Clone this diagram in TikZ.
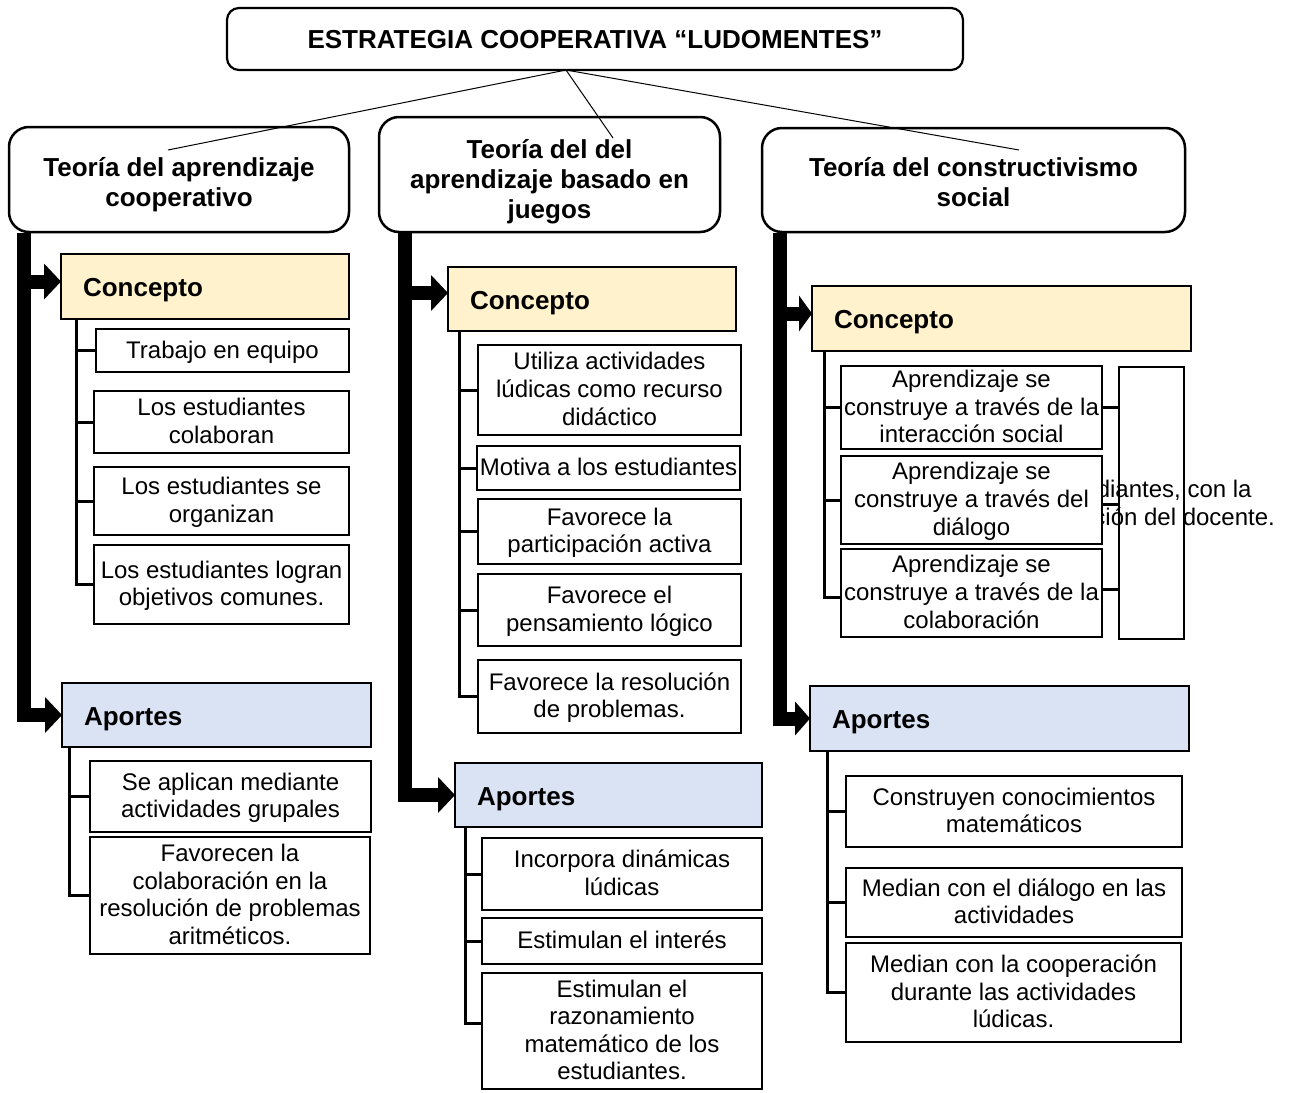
\documentclass[tikz,border=0pt]{standalone}
\usepackage{fontspec}
\setmainfont{Liberation Sans}
\definecolor{concfill}{HTML}{FFF2CC}
\definecolor{aporfill}{HTML}{DAE3F3}
\def\tsh{2}
\newcommand\lowtext[1]{\raisebox{-\tsh pt}[\height][\depth]{\begin{tabular}{@{}c@{}}#1\end{tabular}}}
\newcommand\bx[7]{\node[#1, minimum width={(#5)-(#3)}, minimum height={(#6)-(#4)}] (#2) at ({((#3)+(#5))/2},{((#4)+(#6))/2}) {\lowtext{#7}};}
\newcommand\hb[7]{\pgfmathsetmacro\hbw{(#5)-(#3)-44}\node[#1, minimum width={(#5)-(#3)}, minimum height={(#6)-(#4)}, text width=\hbw pt] (#2) at ({((#3)+(#5))/2},{((#4)+(#6))/2}) {\raisebox{-4pt}[\height][\depth]{#7}};}
\begin{document}
\begin{tikzpicture}[x=1pt,y=-1pt,
  every node/.style={font=\fontsize{24}{27.6}\selectfont, inner sep=0pt, outer sep=0pt},
  item/.style={draw, line width=2.2pt, fill=white, align=center},
  headbox/.style={draw, line width=2.5pt, align=left, font=\bfseries\fontsize{26}{30}\selectfont},
  cbox/.style={headbox, fill=concfill},
  abox/.style={headbox, fill=aporfill},
  theory/.style={draw, line width=2.5pt, rounded corners=20pt, fill=white, align=center, font=\bfseries\fontsize{26}{30}\selectfont},
  titlebox/.style={draw, line width=2.2pt, rounded corners=12pt, fill=white, align=center, font=\bfseries\fontsize{26}{30}\selectfont},
  bar/.style={line width=14pt, line join=miter},
  sub/.style={line width=3pt},
  thin/.style={line width=1pt}]
\fill[white] (0,0) rectangle (1295,1092);
\useasboundingbox (0,0) rectangle (1295,1092);

% title and theories
\def\tsh{3}
\bx{titlebox}{title}{227}{8}{963}{70}{ESTRATEGIA COOPERATIVA “LUDOMENTES”}
\def\tsh{6}
\bx{theory}{t1}{9}{127}{349}{232}{Teoría del aprendizaje\\cooperativo}
\def\tsh{8}
\bx{theory}{t2}{379}{117}{720}{232}{Teoría del del\\aprendizaje basado en\\juegos}
\def\tsh{5}
\bx{theory}{t3}{762}{128}{1185}{232}{Teoría del constructivismo\\social}
\def\tsh{2}

\coordinate (ts) at (566,70);
\coordinate (e1) at (168,150);
\coordinate (e2) at (613,138);
\coordinate (e3) at (1019,150);
\draw[thin] (ts) -- (e1);
\draw[thin] (ts) -- (e2);
\draw[thin] (ts) -- (e3);

% ---------- left column ----------
\hb{cbox}{lc}{61}{254}{349}{319}{Concepto}
\bx{item}{lc1}{96}{329}{349}{372}{Trabajo en equipo}
\bx{item}{lc2}{94}{391}{349}{453}{Los estudiantes\\colaboran}
\bx{item}{lc3}{94}{467}{349}{535}{Los estudiantes se\\organizan}
\bx{item}{lc4}{94}{545}{349}{624}{Los estudiantes logran\\objetivos comunes.}
\hb{abox}{la}{62}{683}{371}{747}{Aportes}
\bx{item}{la1}{90}{761}{371}{832}{Se aplican mediante\\actividades grupales}
\bx{item}{la2}{90}{837}{370}{954}{Favorecen la\\colaboración en la\\resolución de problemas\\aritméticos.}

\coordinate (lb) at (24,233);
\coordinate (lx) at (76,0);
\coordinate (lax) at (69,0);
\draw[bar] (lb) |- ([xshift=-16pt]la.west);
\fill (la.west) -- ++(-17,-18) -- ++(0,36) -- cycle;
\draw[bar] ([yshift=5pt]lc.west -| lb) -- ([yshift=5pt,xshift=-16pt]lc.west);
\fill ([yshift=5pt]lc.west) -- ++(-17,-18) -- ++(0,36) -- cycle;
\draw[sub] (lc.south -| lx) |- (lc4.west);
\foreach \n in {lc1,lc2,lc3} \draw[sub] (\n.west -| lx) -- (\n.west);
\draw[sub] (la.south -| lax) |- (la2.west);
\draw[sub] (la1.west -| lax) -- (la1.west);

% ---------- middle column ----------
\hb{cbox}{mc}{448}{267}{736}{331}{Concepto}
\bx{item}{mc1}{478}{345}{741}{435}{Utiliza actividades\\lúdicas como recurso\\didáctico}
\bx{item}{mc2}{477}{446}{740}{490}{Motiva a los estudiantes}
\bx{item}{mc3}{478}{499}{741}{564}{Favorece la\\participación activa}
\bx{item}{mc4}{478}{574}{741}{646}{Favorece el\\pensamiento lógico}
\bx{item}{mc5}{478}{660}{741}{733}{Favorece la resolución\\de problemas.}
\hb{abox}{ma}{455}{763}{762}{827}{Aportes}
\bx{item}{ma1}{482}{838}{762}{910}{Incorpora dinámicas\\lúdicas}
\bx{item}{ma2}{482}{918}{762}{964}{Estimulan el interés}
\bx{item}{ma3}{482}{973}{762}{1089}{Estimulan el\\razonamiento\\matemático de los\\estudiantes.}

\coordinate (mb) at (405,233);
\coordinate (mx) at (459,0);
\coordinate (max) at (465,0);
\draw[bar] (mb) |- ([xshift=-16pt]ma.west);
\fill (ma.west) -- ++(-17,-18) -- ++(0,36) -- cycle;
\draw[bar] ([yshift=6pt]mc.west -| mb) -- ([yshift=6pt,xshift=-16pt]mc.west);
\fill ([yshift=6pt]mc.west) -- ++(-17,-18) -- ++(0,36) -- cycle;
\draw[sub] (mc.south -| mx) |- (mc5.west);
\foreach \n in {mc1,mc2,mc3,mc4} \draw[sub] (\n.west -| mx) -- (\n.west);
\draw[sub] (ma.south -| max) |- ([yshift=8pt]ma3.west);
\foreach \n in {ma1,ma2} \draw[sub] (\n.west -| max) -- (\n.west);

% ---------- right column ----------
\hb{cbox}{rc}{812}{286}{1191}{351}{Concepto}
\bx{item}{rt}{1119}{367}{1184}{639}{}
\node[align=center] (rttext) at (rt.center) {estudiantes, con la\\mediación del docente.};
\draw[line width=2.2pt] (rt.north west) rectangle (rt.south east);
\bx{item}{rc1}{841}{366}{1102}{449}{Aprendizaje se\\construye a través de la\\interacción social}
\bx{item}{rc2}{841}{456}{1102}{544}{Aprendizaje se\\construye a través del\\diálogo}
\bx{item}{rc3}{841}{549}{1102}{637}{Aprendizaje se\\construye a través de la\\colaboración}
\hb{abox}{ra}{810}{686}{1189}{751}{Aportes}
\bx{item}{ra1}{846}{776}{1182}{847}{Construyen conocimientos\\matemáticos}
\bx{item}{ra2}{846}{868}{1182}{937}{Median con el diálogo en las\\actividades}
\bx{item}{ra3}{846}{943}{1181}{1042}{Median con la cooperación\\durante las actividades\\lúdicas.}

\coordinate (rb) at (780,233);
\coordinate (rx) at (824,0);
\coordinate (rax) at (827,0);
\draw[bar] (rb) |- ([xshift=-14pt]ra.west);
\fill (ra.west) -- ++(-15,-17) -- ++(0,34) -- cycle;
\draw[bar] ([yshift=5pt]rc.west -| rb) -- ([yshift=5pt,xshift=-12pt]rc.west);
\fill ([yshift=5pt]rc.west) -- ++(-13,-18) -- ++(0,36) -- cycle;
\draw[sub] (rc.south -| rx) |- ([yshift=-4pt]rc3.west);
\foreach \n in {rc1,rc2} \draw[sub] (\n.west -| rx) -- (\n.west);
\foreach \n/\s in {rc1/0,rc2/-4,rc3/4} \draw[sub] ([yshift=\s pt]\n.east) -- ([yshift=\s pt]\n.east -| rt.west);
\draw[sub] (ra.south -| rax) |- (ra3.west);
\foreach \n in {ra1,ra2} \draw[sub] (\n.west -| rax) -- (\n.west);
\end{tikzpicture}
\end{document}
